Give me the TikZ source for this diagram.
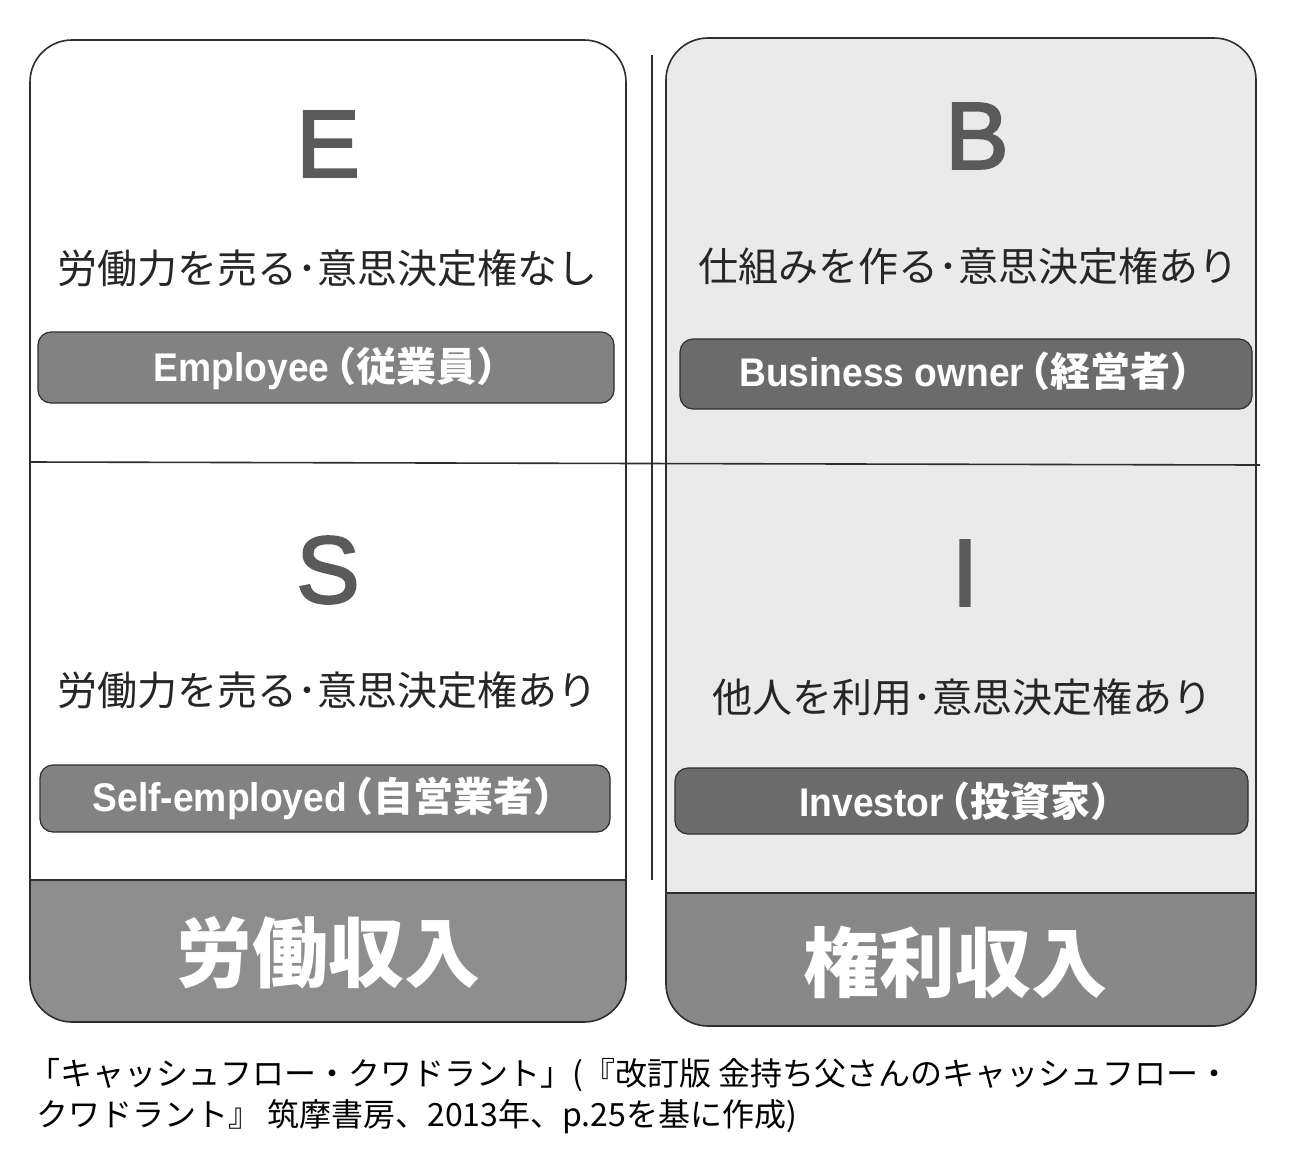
\documentclass[tikz,border=0pt]{standalone}
\usepackage{fontspec}
\setmainfont{Noto Sans CJK JP}
\newfontfamily\latinfont[FakeBold=2.5]{Liberation Sans}
\newfontfamily\pillfont[FakeStretch=0.93]{Liberation Sans}
\definecolor{boxline}{HTML}{2E2E2E}
\definecolor{rightfill}{HTML}{EAEAEA}
\definecolor{pillL}{HTML}{828282}
\definecolor{pillR}{HTML}{6B6B6B}
\definecolor{bandL}{HTML}{8E8E8E}
\definecolor{bandR}{HTML}{888888}
\definecolor{letter}{HTML}{5A5A5A}
\definecolor{txt}{HTML}{262626}
\newcommand{\lp}{\kern-.34em（}
\newcommand{\rp}{）\kern-.4em}
\tikzset{
  bigletter/.style={text=letter, font=\latinfont\fontsize{95}{95}\selectfont, inner sep=0pt},
  desc/.style={text=txt, font=\fontsize{40}{42}\selectfont, inner sep=0pt},
  pill/.style={rounded corners=13, draw=boxline, line width=1.2pt},
  pilltext/.style={text=white, font=\bfseries\fontsize{40}{42}\selectfont, inner sep=0pt},
  bandtext/.style={text=white, font=\bfseries\fontsize{76}{80}\selectfont, inner sep=0pt},
  outline/.style={draw=boxline, line width=1.6pt, rounded corners=42},
  caption/.style={text=black, font=\fontsize{32}{34}\selectfont, inner sep=0pt, anchor=west},
}
\begin{document}
\begin{tikzpicture}[x=1pt,y=-1pt]
\useasboundingbox (0,0) rectangle (1292,1149);
\fill[white] (0,0) rectangle (1292,1149);

% left box
\fill[white, rounded corners=42] (30,40) rectangle (626,1022);
\begin{scope}
  \clip (0,880) rectangle (1292,1149);
  \fill[bandL, rounded corners=42] (30,700) rectangle (626,1022);
\end{scope}
\draw[outline] (30,40) rectangle (626,1022);
\draw[boxline, line width=1.4pt] (30,880) -- (626,880);

% right box
\fill[rightfill, rounded corners=42] (666,38) rectangle (1256,1026);
\begin{scope}
  \clip (0,893) rectangle (1292,1149);
  \fill[bandR, rounded corners=42] (666,700) rectangle (1256,1026);
\end{scope}
\draw[outline] (666,38) rectangle (1256,1026);
\draw[boxline, line width=1.4pt] (666,893) -- (1256,893);

% dividers
\draw[boxline, line width=1.6pt] (652,55) -- (652,880);
\draw[boxline, line width=1.6pt] (30,462) -- (1260,465);

% letters
\node[bigletter] (E) at (328,144) {E};
\node[bigletter] (B) at (977,136) {B};
\node[bigletter] (S) at (328,570) {S};
\node[bigletter] (I) at (965,573) {I};

% descriptions
\node[desc] (dE) at (327,268) {労働力を売る･意思決定権なし};
\node[desc] (dB) at (968,266) {仕組みを作る･意思決定権あり};
\node[desc] (dS) at (327,690) {労働力を売る･意思決定権あり};
\node[desc] (dI) at (962,697) {他人を利用･意思決定権あり};

% pills
\fill[pillL, pill] (38,332) rectangle (614,403);
\node[pilltext] (pE) at (327,368) {{\pillfont Employee}\lp 従業員\rp};
\fill[pillR, pill] (680,339) rectangle (1252,409);
\node[pilltext] (pB) at (967,371) {{\pillfont Business owner}\lp 経営者\rp};
\fill[pillL, pill] (40,765) rectangle (610,832);
\node[pilltext] (pS) at (325,798) {{\pillfont Self-employed}\lp 自営業者\rp};
\fill[pillR, pill] (675,768) rectangle (1248,834);
\node[pilltext] (pI) at (957,801) {{\pillfont Investor}\lp 投資家\rp};

% bands
\node[bandtext] (bL) at (328,953) {労働収入};
\node[bandtext] (bR) at (955,962) {権利収入};

% caption
\node[caption] (c1) at (28,1075) {「キャッシュフロー・クワドラント」(『改訂版 金持ち父さんのキャッシュフロー・};
\node[caption] (c2) at (36,1117) {クワドラント』 筑摩書房、2013年、p.25を基に作成)};
\end{tikzpicture}
\end{document}
